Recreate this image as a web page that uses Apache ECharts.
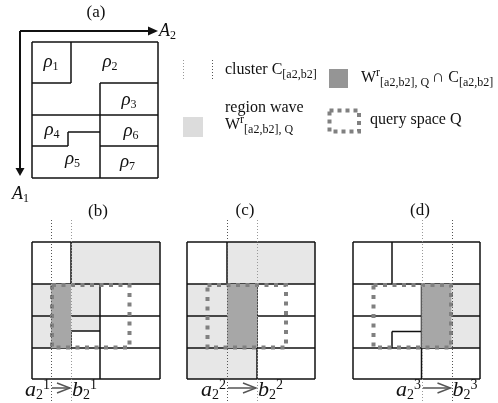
<!DOCTYPE html>
<html><head><meta charset="utf-8">
<script src="https://cdn.jsdelivr.net/npm/echarts@6/dist/echarts.min.js"></script>
<style>html,body{margin:0;padding:0;background:#fff}#c{width:498px;height:403px}</style>
</head><body><div id="c"></div>
<script>
// ---------------- data (diagram coordinates, each panel its own value axes) ----------------
// panel extents [A2 range, A1 range]
const panelExtents = [[126,136],[128,137],[128,137],[127,137]];

// panel (a): partition boundaries as segments [x1,y1,x2,y2]
const aLines = [
  [0,0,126,0],[126,0,126,136],[126,136,0,136],[0,136,0,0],
  [39,0,39,41],[0,41,39,41],
  [68,41,68,136],[68,41,126,41],
  [0,73,126,73],
  [68,104,126,104],
  [0,104,36,104],[36,104,36,90],[36,90,68,90]
];
const aRhoSubs = ['1','2','3','4','6','5','7'];
const aRhoPos = [[19,20],[78,20],[97,58],[20,88],[99,89],[40.5,117],[95.5,120]];
const aAxisLines = [[-12,-11,116,-11],[-12,-11,-12,126]];
const aAxisHeads = [[116,-11,126,-11],[-12,126,-12,134]];
const aAxisNames = ['2','1'];
const aAxisNamePos = [[127,-11],[-20,152]];

// panel (b)
const bLines = [
  [0,0,128,0],[128,0,128,137],[128,137,0,137],[0,137,0,0],
  [39,0,39,42],[0,42,128,42],[68,42,68,137],
  [0,74,128,74],[0,106,128,106],
  [39,106,39,89],[39,89,68,89]
];
const bWave = [[39,0,128,42],[0,42,68,89],[0,89,39,106]];
const bCore = [[19,42,39,106]];
const bQuery = [[20,43,97.5,105.5]];
const bCluster = [19,39];

// panel (c)
const cLines = [
  [0,0,128,0],[128,0,128,137],[128,137,0,137],[0,137,0,0],
  [40,0,40,42],[0,42,128,42],[70,42,70,137],
  [0,74,128,74],[0,106,128,106]
];
const cWave = [[40,0,128,42],[0,42,70,137]];
const cCore = [[40,42,70,106]];
const cQuery = [[20.5,43,99,105.5]];
const cCluster = [40,70];

// panel (d)
const dLines = [
  [0,0,127,0],[127,0,127,137],[127,137,0,137],[0,137,0,0],
  [39,0,39,42],[0,42,127,42],[68.5,42,68.5,137],
  [0,74,127,74],[0,106,127,106],
  [39,106,39,89.5],[39,89.5,68.5,89.5]
];
const dWave = [[98.5,42,127,106]];
const dCore = [[68.5,42,98.5,106]];
const dQuery = [[20.5,43,98,105.5]];
const dCluster = [69,98.5];

const stepSup = ['1','2','3'];
const clusterSpan = [-22,161];   // A1 extent of the cluster guide lines
const arrowLevel = 146;          // A1 position of the a->b arrow
const labelLevel = 148;

// ---------------- styles ----------------
const SERIF = '"Liberation Serif","Times New Roman",serif';
const INK = '#111';
const LIGHT = '#e7e7e7';
const DARK = '#a7a7a7';
const QUERY = '#808080';

const richRho = {
  g:{fontFamily:SERIF,fontSize:19,fontStyle:'italic',lineHeight:22,fill:INK},
  s:{fontFamily:SERIF,fontSize:12,lineHeight:12,verticalAlign:'bottom',fill:INK}
};
const richAxis = {
  g:{fontFamily:SERIF,fontSize:18,fontStyle:'italic',lineHeight:22,fill:INK},
  s:{fontFamily:SERIF,fontSize:12,lineHeight:12,verticalAlign:'bottom',fill:INK}
};
const richStep = {
  g:{fontFamily:SERIF,fontSize:22,fontStyle:'italic',lineHeight:24,fill:INK},
  s:{fontFamily:SERIF,fontSize:14,lineHeight:13,verticalAlign:'bottom',fill:INK},
  p:{fontFamily:SERIF,fontSize:14,lineHeight:13,verticalAlign:'top',fill:INK}
};
const richLegend = {
  m:{fontFamily:SERIF,fontSize:16,lineHeight:22,fill:INK},
  c:{fontFamily:SERIF,fontSize:17,lineHeight:22,fill:INK},
  s:{fontFamily:SERIF,fontSize:12,lineHeight:12,verticalAlign:'bottom',fill:INK},
  p:{fontFamily:SERIF,fontSize:12,lineHeight:12,verticalAlign:'top',fill:INK}
};

// ---------------- render helpers ----------------
function seriesOf(idx, data, renderItem, z){
  return {type:'custom', coordinateSystem:'cartesian2d', xAxisIndex:idx, yAxisIndex:idx,
    data:data, renderItem:renderItem, z:z, silent:true, clip:false, animation:false};
}
function rectRender(style){
  return function(params, api){
    const p1 = api.coord([api.value(0), api.value(1)]);
    const p2 = api.coord([api.value(2), api.value(3)]);
    return {type:'rect', shape:{x:Math.min(p1[0],p2[0]), y:Math.min(p1[1],p2[1]),
      width:Math.abs(p2[0]-p1[0]), height:Math.abs(p2[1]-p1[1])}, style:style};
  };
}
function segRender(style){
  return function(params, api){
    const p1 = api.coord([api.value(0), api.value(1)]);
    const p2 = api.coord([api.value(2), api.value(3)]);
    return {type:'line', shape:{x1:p1[0],y1:p1[1],x2:p2[0],y2:p2[1]}, style:style};
  };
}
function headRender(params, api){
  const b = api.coord([api.value(0), api.value(1)]);
  const t = api.coord([api.value(2), api.value(3)]);
  const dx = t[0]-b[0], dy = t[1]-b[1], L = Math.hypot(dx,dy), hw = 4.5;
  const nx = -dy/L*hw, ny = dx/L*hw;
  return {type:'polygon', shape:{points:[[b[0]+nx,b[1]+ny],[t[0],t[1]],[b[0]-nx,b[1]-ny]]}, style:{fill:INK}};
}
function textRender(texts, rich, align){
  return function(params, api){
    const p = api.coord([api.value(0), api.value(1)]);
    return {type:'text', x:p[0], y:p[1], style:{text:texts[params.dataIndex], rich:rich,
      align:align[params.dataIndex] || align[0], verticalAlign:'middle'}};
  };
}
function stepArrowRender(params, api){
  const a = api.coord([api.value(0), api.value(1)]);
  const b = api.coord([api.value(2), api.value(3)]);
  const tip = b[0]-1;
  return {type:'group', children:[
    {type:'line', shape:{x1:a[0]+1,y1:a[1],x2:tip,y2:a[1]}, style:{stroke:'#555',lineWidth:1.5}},
    {type:'polyline', shape:{points:[[tip-13,a[1]-5],[tip,a[1]],[tip-13,a[1]+5]]}, style:{stroke:'#555',lineWidth:1.4,fill:null}}
  ]};
}

// ---------------- build ----------------
const grids = [
  {left:32, top:42, width:126, height:136},
  {left:32, top:242, width:128, height:137},
  {left:187, top:242, width:128, height:137},
  {left:353, top:242, width:127, height:137}
];
const xAxes = panelExtents.map((e,i)=>({type:'value', gridIndex:i, min:0, max:e[0], show:false}));
const yAxes = panelExtents.map((e,i)=>({type:'value', gridIndex:i, min:0, max:e[1], inverse:true, show:false}));

const lineStyle = {stroke:INK, lineWidth:1.5};
const series = [];
// panel (a)
series.push(seriesOf(0, aLines, segRender(lineStyle), 2));
series.push(seriesOf(0, aAxisLines, segRender({stroke:INK, lineWidth:2}), 2));
series.push(seriesOf(0, aAxisHeads, headRender, 3));
series.push(seriesOf(0, aRhoPos, textRender(aRhoSubs.map(s=>'{g|ρ}{s|'+s+'}'), richRho, ['center']), 4));
series.push(seriesOf(0, aAxisNamePos, textRender(aAxisNames.map(s=>'{g|A}{s|'+s+'}'), richAxis, ['left']), 4));

// panels (b),(c),(d)
const steps = [
  {lines:bLines, wave:bWave, core:bCore, query:bQuery, cluster:bCluster},
  {lines:cLines, wave:cWave, core:cCore, query:cQuery, cluster:cCluster},
  {lines:dLines, wave:dWave, core:dCore, query:dQuery, cluster:dCluster}
];
const clusterColors = [['#555','#999'],['#555','#999'],['#999','#555']];
steps.forEach((p, k)=>{
  const idx = k+1;
  series.push(seriesOf(idx, p.wave, rectRender({fill:LIGHT}), 1));
  series.push(seriesOf(idx, p.lines, segRender(lineStyle), 2));
  series.push(seriesOf(idx, p.core, rectRender({fill:DARK}), 3));
  series.push(seriesOf(idx, p.query, rectRender({fill:null, stroke:QUERY, lineWidth:4, lineDash:[4,5.5]}), 4));
  series.push(seriesOf(idx, p.cluster.map(x=>[x,clusterSpan[0],x,clusterSpan[1]]),
    function(params, api){
      const p1 = api.coord([api.value(0), api.value(1)]);
      const p2 = api.coord([api.value(2), api.value(3)]);
      const xx = Math.round(p1[0])+0.5;
      return {type:'line', shape:{x1:xx,y1:p1[1],x2:xx,y2:p2[1]},
        style:{stroke:clusterColors[k][params.dataIndex], lineWidth:1, lineDash:[1,2]}};
    }, 5));
  series.push(seriesOf(idx, [[p.cluster[0],arrowLevel,p.cluster[1],arrowLevel]], stepArrowRender, 5));
  series.push(seriesOf(idx, [[p.cluster[0]-1,labelLevel],[p.cluster[1]+1,labelLevel]],
    textRender(['{g|a}{s|2}{p|'+stepSup[k]+'}', '{g|b}{s|2}{p|'+stepSup[k]+'}'], richStep, ['right','left']), 6));
});

const titleStyle = {fontFamily:SERIF, fontSize:17, fill:INK, align:'center', verticalAlign:'middle'};
const graphic = [
  {type:'text', x:96, y:13, style:Object.assign({text:'(a)'}, titleStyle)},
  {type:'text', x:98, y:212, style:Object.assign({text:'(b)'}, titleStyle)},
  {type:'text', x:245, y:211, style:Object.assign({text:'(c)'}, titleStyle)},
  {type:'text', x:420, y:211, style:Object.assign({text:'(d)'}, titleStyle)},
  // legend
  {type:'line', shape:{x1:183.5,y1:60,x2:183.5,y2:80}, style:{stroke:'#999',lineWidth:1,lineDash:[1,2]}},
  {type:'line', shape:{x1:212.5,y1:60,x2:212.5,y2:80}, style:{stroke:'#555',lineWidth:1,lineDash:[1,2]}},
  {type:'text', x:225, y:69.5, style:{text:'{m|cluster C}{s|[a2,b2]}', rich:richLegend, align:'left', verticalAlign:'middle'}},
  {type:'rect', shape:{x:329,y:69,width:19,height:19}, style:{fill:'#959595'}},
  {type:'text', x:361, y:77.5, style:{text:'{m|W}{p|r}{s|[a2,b2], Q }{c|∩}{m| C}{s|[a2,b2]}', rich:richLegend, align:'left', verticalAlign:'middle'}},
  {type:'rect', shape:{x:183,y:117,width:20,height:20}, style:{fill:'#dcdcdc'}},
  {type:'text', x:225, y:107.5, style:{text:'{m|region wave}', rich:richLegend, align:'left', verticalAlign:'middle'}},
  {type:'text', x:225, y:124.5, style:{text:'{m|W}{p|r}{s|[a2,b2], Q}', rich:richLegend, align:'left', verticalAlign:'middle'}},
  {type:'rect', shape:{x:329.5,y:110.5,width:29.5,height:21}, style:{fill:null, stroke:QUERY, lineWidth:4, lineDash:[4,4]}},
  {type:'text', x:370, y:119.5, style:{text:'{m|query space Q}', rich:richLegend, align:'left', verticalAlign:'middle'}}
];

const chart = echarts.init(document.getElementById('c'), null, {renderer:'canvas'});
chart.setOption({
  animation:false,
  backgroundColor:'#fff',
  grid:grids, xAxis:xAxes, yAxis:yAxes,
  series:series,
  graphic:graphic
});
</script></body></html>
